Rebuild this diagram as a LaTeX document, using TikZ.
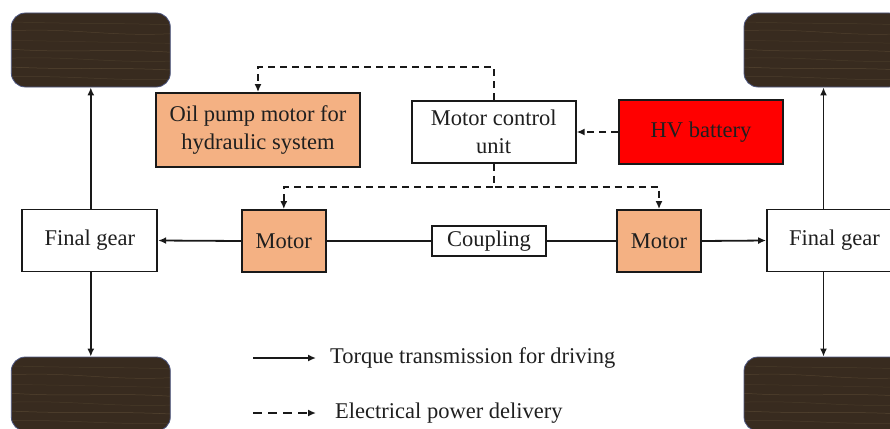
\documentclass[tikz,border=0pt]{standalone}
\usepackage{fontspec}
\setmainfont{Liberation Serif}
\usetikzlibrary{arrows.meta,positioning,calc}

\definecolor{motororange}{RGB}{244,177,131}
\definecolor{batteryred}{RGB}{255,0,0}
\definecolor{wheelbrown}{RGB}{56,43,31}
\definecolor{wheeledge}{RGB}{78,88,130}
\definecolor{grainbrown}{RGB}{122,104,72}

\begin{document}
\begin{tikzpicture}[
  x=1pt, y=-1pt,
  font=\fontsize{22.5}{27.5}\selectfont,
  >={Latex[length=8pt,width=7pt]},
  torque/.style={->, line width=1.8pt, draw=black!90},
  power/.style={torque, dash pattern=on 7pt off 5pt},
  shaft/.style={line width=1.8pt, draw=black!90},
  block/.style={draw=black!90, line width=1.8pt, fill=white, text=black!88,
    align=center, inner sep=2pt, minimum width=84pt, minimum height=62pt},
  motorbox/.style={block, fill=motororange},
  gearbox/.style={block, minimum width=135pt},
  legendtext/.style={inner sep=0pt, text=black!88},
  wheel/.style={draw=wheeledge, line width=0.8pt, fill=wheelbrown,
    rounded corners=14pt, minimum width=159pt, minimum height=74pt,
    path picture={
      \foreach \f/\b/\o in {0.12/2/0.25, 0.24/-3/0.35, 0.37/1/0.2, 0.49/4/0.4,
                            0.61/-2/0.25, 0.73/3/0.45, 0.86/-1/0.3} {
        \draw[grainbrown, line width=0.5pt, opacity=\o]
          ($(path picture bounding box.north west)!\f!(path picture bounding box.south west)$)
          .. controls +(60,\b) and +(-60,-\b) ..
          ($(path picture bounding box.north east)!\f+0.04!(path picture bounding box.south east)$);
      }
    }}
]
\useasboundingbox (0,0) rectangle (890,428);

% wheels
\node[wheel] (wheelTL) at (90.8,50) {};
\node[wheel] (wheelTR) at (823.5,50) {};
\node[wheel] (wheelBL) at (90.8,394) {};
\node[wheel] (wheelBR) at (823.5,394) {};

% drive line
\node[gearbox] (gearL) at (89.8,240.5) {Final gear};
\node[gearbox] (gearR) at (834.5,240.5) {Final gear};
\node[motorbox] (motorL) at (283.8,241) {Motor};
\node[motorbox] (motorR) at (659,241) {Motor};
\node[block, minimum width=114pt, minimum height=30pt] (coupling) at (489,241) {Coupling};

% electrical side
\node[motorbox, minimum width=204pt, minimum height=74pt] (oilpump) at (258,130) {Oil pump motor for\\hydraulic system};
\node[block, minimum width=164pt] (mcu) at (493.7,132) {Motor control\\unit};
\node[block, fill=batteryred, minimum width=164pt, minimum height=64pt] (battery) at (701,132) {HV battery};

\draw[power] (battery.west) -- (mcu.east);
\draw[power] (mcu.north) -- ++(0,-33) -| (oilpump.north);
\draw[power] (mcu.south) -- ++(0,23) -| (motorL.north);
\draw[power] (mcu.south) -- ++(0,23) -| (motorR.north);

\draw[torque] (motorL.west) -- (gearL.east);
\draw[torque] (motorR.east) -- (gearR.west);
\draw[shaft] (motorL.east) -- (coupling.west);
\draw[shaft] (coupling.east) -- (motorR.west);
\draw[torque] (gearL.north -| wheelTL.south) -- (wheelTL.south);
\draw[torque] (gearL.south -| wheelBL.north) -- (wheelBL.north);
\draw[torque] (gearR.north -| wheelTR.south) -- (wheelTR.south);
\draw[torque] (gearR.south -| wheelBR.north) -- (wheelBR.north);

% legend
\coordinate (torqueA) at (253,358);
\coordinate (torqueB) at (316,358);
\coordinate (powerA) at (253,413);
\coordinate (powerB) at (316,413);
\draw[torque] (torqueA) -- (torqueB);
\draw[power, dash pattern=on 9pt off 6pt] (powerA) -- (powerB);
\node[legendtext, right=14pt of torqueB] (torquetext) {Torque transmission for driving};
\node[legendtext, right=19pt of powerB] (powertext) {Electrical power delivery};

\end{tikzpicture}
\end{document}
